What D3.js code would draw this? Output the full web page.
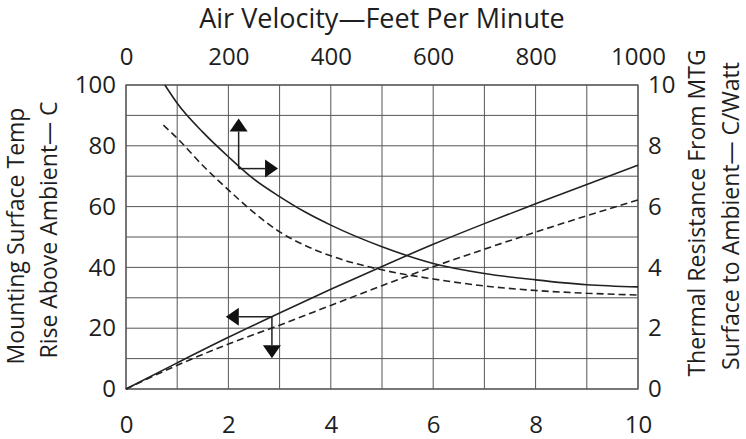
<!DOCTYPE html>
<html>
<head>
<meta charset="utf-8">
<script src="https://cdn.jsdelivr.net/npm/d3@7"></script>
<style>
  body { margin: 0; background: #fff; }
  text { font-family: "Open Sans", "Noto Sans", sans-serif; fill: #1e1e1e; }
</style>
</head>
<body>
<div class="vis-chart"></div>
<script>
// bottom axis: power (W), left axis: temp rise (C)
const power = [0, 1, 2, 3, 4, 5, 6, 7, 8, 9, 10];
const riseSolid = [0, 8.6, 17.0, 25.0, 32.8, 40.3, 47.6, 54.4, 60.9, 67.3, 73.6];
const riseDashed = [0, 7.8, 14.8, 21.0, 27.5, 34.0, 40.2, 46.0, 51.6, 57.0, 62.2];

// top axis: air velocity (fpm), right axis: thermal resistance (C/W)
const velSolid = [76, 100, 150, 200, 250, 300, 350, 400, 500, 600, 700, 800, 900, 1000];
const resSolid = [10.0, 9.4, 8.45, 7.64, 6.9, 6.33, 5.82, 5.39, 4.68, 4.13, 3.8, 3.59, 3.43, 3.36];
const velDashed = [73, 100, 150, 200, 250, 300, 350, 400, 500, 600, 700, 800, 900, 1000];
const resDashed = [8.68, 8.25, 7.35, 6.55, 5.8, 5.17, 4.72, 4.38, 3.92, 3.62, 3.39, 3.24, 3.15, 3.09];

const bottomTicks = [0, 2, 4, 6, 8, 10];
const topTicks = [0, 200, 400, 600, 800, 1000];
const leftTicks = [0, 20, 40, 60, 80, 100];
const rightTicks = [0, 2, 4, 6, 8, 10];

const title = 'Air Velocity\u2014Feet Per Minute';
const leftTitle = ['Mounting Surface Temp', 'Rise Above Ambient\u2014 C'];
const rightTitle = ['Thermal Resistance From MTG', 'Surface to Ambient\u2014 C/Watt'];

const W = 746, H = 439;
const margin = {top: 85, right: 108, bottom: 50, left: 126};
const width = W - margin.left - margin.right;
const height = H - margin.top - margin.bottom;
const fs = 24;

const svg = d3.select('.vis-chart').append('svg')
    .attr('width', W)
    .attr('height', H);

const g = svg.append('g')
    .attr('transform', `translate(${margin.left},${margin.top})`);

const x = d3.scaleLinear().domain([0, 10]).range([0, width]);
const xTop = d3.scaleLinear().domain([0, 1000]).range([0, width]);
const y = d3.scaleLinear().domain([0, 100]).range([height, 0]);
const yRight = d3.scaleLinear().domain([0, 10]).range([height, 0]);

// grid
g.append('g')
  .selectAll('line')
  .data(d3.range(0, 11))
  .enter().append('line')
    .attr('x1', d => x(d)).attr('x2', d => x(d))
    .attr('y1', 0).attr('y2', height)
    .attr('stroke', '#555').attr('stroke-width', 1);
g.append('g')
  .selectAll('line')
  .data(d3.range(0, 110, 10))
  .enter().append('line')
    .attr('x1', 0).attr('x2', width)
    .attr('y1', d => y(d)).attr('y2', d => y(d))
    .attr('stroke', '#555').attr('stroke-width', 1);
g.append('rect')
  .attr('width', width).attr('height', height)
  .attr('fill', 'none').attr('stroke', '#555').attr('stroke-width', 1.2);

// axes (labels only)
const styleAxis = sel => {
  sel.select('.domain').remove();
  sel.selectAll('line').remove();
  sel.selectAll('text').style('font-size', fs + 'px').attr('fill', '#1e1e1e')
     .style('font-family', '"Open Sans", sans-serif');
};
g.append('g')
  .attr('transform', `translate(0,${height})`)
  .call(d3.axisBottom(x).tickValues(bottomTicks).tickSize(0).tickPadding(27))
  .call(styleAxis);
g.append('g')
  .call(d3.axisTop(xTop).tickValues(topTicks).tickFormat(d3.format('d')).tickSize(0).tickPadding(20))
  .call(styleAxis);
g.append('g')
  .call(d3.axisLeft(y).tickValues(leftTicks).tickSize(0).tickPadding(10))
  .call(styleAxis);
g.append('g')
  .attr('transform', `translate(${width},0)`)
  .call(d3.axisRight(yRight).tickValues(rightTicks).tickSize(0).tickPadding(10))
  .call(styleAxis);

// titles
svg.append('text')
  .attr('x', margin.left + width / 2).attr('y', 28)
  .attr('text-anchor', 'middle').style('font-size', '27px')
  .text(title);

const vTitle = (txt, bx, cy) => svg.append('text')
  .attr('transform', `translate(${bx},${cy}) rotate(-90)`)
  .attr('text-anchor', 'middle').style('font-size', '23px')
  .text(txt);
vTitle(leftTitle[0], 24, 236);
vTitle(leftTitle[1], 57, 230);
vTitle(rightTitle[0], 705, 213);
vTitle(rightTitle[1], 739, 216);

// curves
const lineBottom = d3.line().x(d => x(d[0])).y(d => y(d[1])).curve(d3.curveMonotoneX);
const lineTop = d3.line().x(d => xTop(d[0])).y(d => yRight(d[1])).curve(d3.curveMonotoneX);

const curves = [
  {pts: d3.zip(power, riseSolid), gen: lineBottom, dash: null},
  {pts: d3.zip(power, riseDashed), gen: lineBottom, dash: '7,4'},
  {pts: d3.zip(velSolid, resSolid), gen: lineTop, dash: null},
  {pts: d3.zip(velDashed, resDashed), gen: lineTop, dash: '7,4'}
];
g.selectAll('path.curve')
  .data(curves)
  .enter().append('path')
    .attr('class', 'curve')
    .attr('d', d => d.gen(d.pts))
    .attr('fill', 'none')
    .attr('stroke', '#222')
    .attr('stroke-width', 1.6)
    .attr('stroke-dasharray', d => d.dash);

// arrow annotations: corner in bottom/left units, tips
const arrowUpRight = {corner: [2.2, 72.5], up: 89, right: 2.97};
const arrowLeftDown = {corner: [2.85, 23.8], left: 1.95, down: 10.1};

const ah = 13, aw = 9;
const ann = g.append('g').attr('stroke', '#222').attr('fill', '#111');

const tri = (tx, ty, dir) => {
  let p;
  if (dir === 'up') p = [[tx, ty], [tx - aw, ty + ah], [tx + aw, ty + ah]];
  if (dir === 'down') p = [[tx, ty], [tx - aw, ty - ah], [tx + aw, ty - ah]];
  if (dir === 'right') p = [[tx, ty], [tx - ah, ty - aw], [tx - ah, ty + aw]];
  if (dir === 'left') p = [[tx, ty], [tx + ah, ty - aw], [tx + ah, ty + aw]];
  ann.append('path').attr('d', 'M' + p.join('L') + 'Z').attr('stroke', 'none');
};

{
  const cx = x(arrowUpRight.corner[0]), cy = y(arrowUpRight.corner[1]);
  const ty = y(arrowUpRight.up), tx = x(arrowUpRight.right);
  ann.append('line').attr('x1', cx).attr('y1', cy).attr('x2', cx).attr('y2', ty + ah).attr('stroke-width', 1.5);
  ann.append('line').attr('x1', cx).attr('y1', cy).attr('x2', tx - ah).attr('y2', cy).attr('stroke-width', 1.5);
  tri(cx, ty, 'up');
  tri(tx, cy, 'right');
}
{
  const cx = x(arrowLeftDown.corner[0]), cy = y(arrowLeftDown.corner[1]);
  const tx = x(arrowLeftDown.left), ty = y(arrowLeftDown.down);
  ann.append('line').attr('x1', cx).attr('y1', cy).attr('x2', tx + ah).attr('y2', cy).attr('stroke-width', 1.5);
  ann.append('line').attr('x1', cx).attr('y1', cy).attr('x2', cx).attr('y2', ty - ah).attr('stroke-width', 1.5);
  tri(tx, cy, 'left');
  tri(cx, ty, 'down');
}
</script>
</body>
</html>
